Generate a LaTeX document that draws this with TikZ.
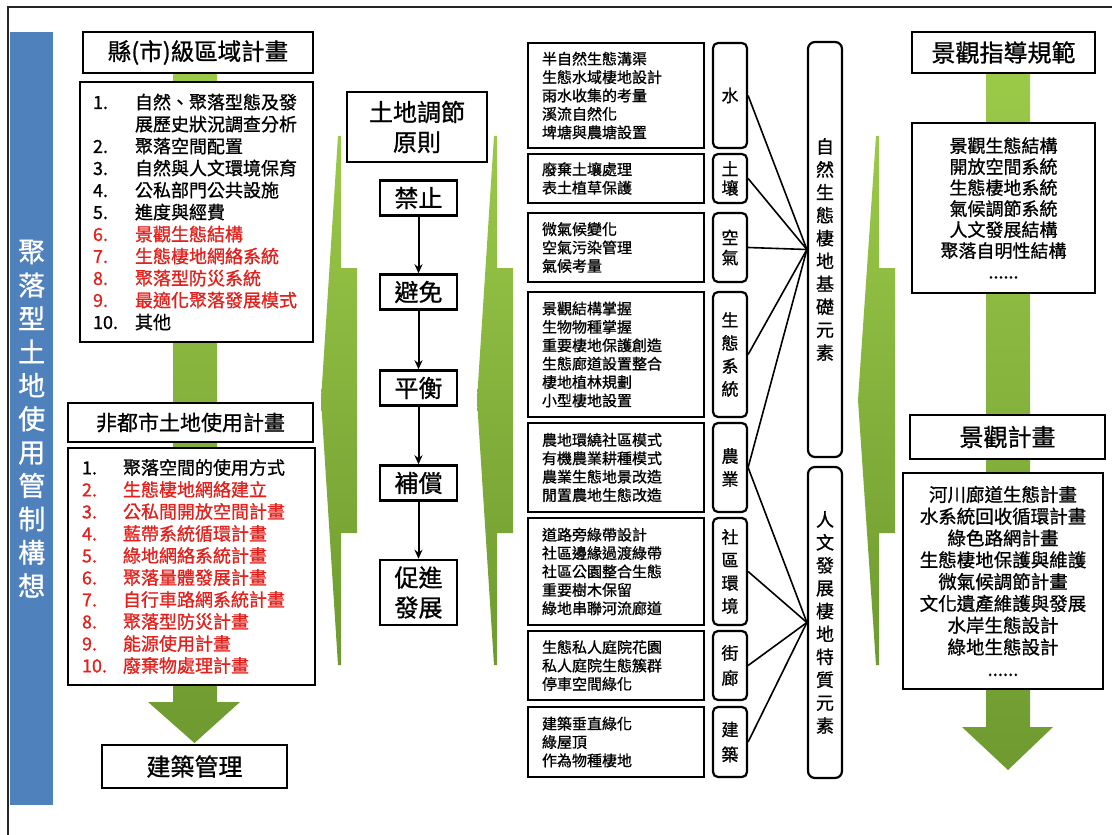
\documentclass[tikz,border=0pt]{standalone}
\usepackage{fontspec}
\setmainfont{Noto Sans CJK TC}[FakeBold=0.9]
\usetikzlibrary{arrows.meta}
\definecolor{cred}{HTML}{E3201B}
\definecolor{cblue}{HTML}{4F81BD}
\definecolor{gtop}{HTML}{9BC948}
\definecolor{gbot}{HTML}{6E9A30}
\newcommand\myr{\color{cred}}
\newcommand\nba[1]{\makebox[42pt][l]{#1}}
\newcommand\nbb[1]{\makebox[41pt][l]{#1}}
\begin{document}
\begin{tikzpicture}[x=1pt,y=-1pt,
  box/.style={draw=black, line width=2.5pt, fill=white, inner sep=0pt},
  hdr/.style={box, font=\fontsize{24}{30}\selectfont, align=center},
  stepbox/.style={box, minimum width=77, minimum height=35, font=\fontsize{24}{30}\selectfont, align=center},
  txtbox/.style={box, minimum width=176, text width=148, inner xsep=14, align=left, font=\fontsize{15}{18.4}\selectfont},
  lblbox/.style={box, line width=2.2pt, rounded corners=5pt, minimum width=34, align=center, font=\fontsize{17}{23}\selectfont},
  bigbox/.style={box, line width=2.2pt, rounded corners=7pt, minimum width=34, align=center, font=\fontsize{18}{22.9}\selectfont},
  conn/.style={line width=1.6pt},
  flow/.style={line width=2pt, -{Stealth[length=9pt,width=8pt]}},
  greenfill/.style={top color=gtop, bottom color=gbot, draw=none}
]
\useasboundingbox (0,0) rectangle (1112,835);
\fill[white] (0,0) rectangle (1112,835);
% outer frame
\draw[line width=1.5pt, black!85] (8,835) -- (8,7) -- (1112,7);

% side bar
\node[fill=cblue, minimum width=43, minimum height=773, inner sep=0pt, anchor=north west,
      text=white, align=center, font=\fontsize{27}{33.4}\selectfont] (side) at (10,32)
  {聚\\落\\型\\土\\地\\使\\用\\管\\制\\構\\想};

% green bars and arrows
\shade[greenfill] (173,73) -- (217,73) -- (217,702) -- (240,702) -- (194.5,743) -- (148,702) -- (173,702) -- cycle;
\shade[greenfill] (986,73) -- (1030,73) -- (1030,727) -- (1053,727) -- (1008,770) -- (962,727) -- (986,727) -- cycle;
% chevrons
\shade[greenfill] (338,136) -- (341,136) -- (341,268) -- (357,268) -- (357,533) -- (341,533) -- (341,665) -- (338,665) -- (321,400) -- cycle;
\shade[greenfill] (494,136) -- (497,136) -- (497,268) -- (513,268) -- (513,533) -- (497,533) -- (497,665) -- (494,665) -- (477,400) -- cycle;
\shade[greenfill] (876,136) -- (879,136) -- (879,268) -- (895,268) -- (895,533) -- (879,533) -- (879,665) -- (876,665) -- (858,400) -- cycle;

% left column
\node[hdr, minimum width=230, minimum height=41, font=\fontsize{23.5}{28}\selectfont] (h1) at (198,52.5) {縣(市)級區域計畫};
\node[box, minimum height=260, text width=207, inner xsep=13, align=left, font=\fontsize{18}{22}\selectfont] (l1) at (196.5,212) {%
\nba{1.}自然、聚落型態及發\\
\nba{}展歷史狀況調查分析\\
\nba{2.}聚落空間配置\\
\nba{3.}自然與人文環境保育\\
\nba{4.}公私部門公共設施\\
\nba{5.}進度與經費\\
{\myr\nba{6.}景觀生態結構}\\
{\myr\nba{7.}生態棲地網絡系統}\\
{\myr\nba{8.}聚落型防災系統}\\
{\myr\nba{9.}最適化聚落發展模式}\\
\nba{10.}其他};
\node[hdr, minimum width=245, minimum height=39, font=\fontsize{21}{26}\selectfont] (h2) at (190.5,422.5) {非都市土地使用計畫};
\node[box, minimum height=237, text width=219, inner xsep=14, align=left, font=\fontsize{18}{22}\selectfont] (l2) at (191.5,566.5) {%
\nbb{1.}聚落空間的使用方式\\
{\myr\nbb{2.}生態棲地網絡建立}\\
{\myr\nbb{3.}公私間開放空間計畫}\\
{\myr\nbb{4.}藍帶系統循環計畫}\\
{\myr\nbb{5.}綠地網絡系統計畫}\\
{\myr\nbb{6.}聚落量體發展計畫}\\
{\myr\nbb{7.}自行車路網系統計畫}\\
{\myr\nbb{8.}聚落型防災計畫}\\
{\myr\nbb{9.}能源使用計畫}\\
{\myr\nbb{10.}廢棄物處理計畫}};
\node[hdr, minimum width=185, minimum height=43] (jz) at (194.5,766.5) {建築管理};

% middle column
\node[hdr, minimum width=140, minimum height=70] (p0) at (417,127) {土地調節\\原則};
\node[stepbox] (p1) at (418.5,198) {禁止};
\node[stepbox] (p2) at (418.5,292) {避免};
\node[stepbox] (p3) at (418.5,388) {平衡};
\node[stepbox] (p4) at (418.5,483) {補償};
\node[stepbox, minimum height=65] (p5) at (418.5,592.5) {促進\\發展};
\draw[flow] (p1) -- (p2);
\draw[flow] (p2) -- (p3);
\draw[flow] (p3) -- (p4);
\draw[flow] (p4) -- (p5);

% element boxes
\node[txtbox, minimum height=105] (t1) at (616,95.5) {半自然生態溝渠\\生態水域棲地設計\\雨水收集的考量\\溪流自然化\\埤塘與農塘設置};
\node[txtbox, minimum height=49] (t2) at (616,178.5) {廢棄土壤處理\\表土植草保護};
\node[txtbox, minimum height=69] (t3) at (616,247.5) {微氣候變化\\空氣污染管理\\氣候考量};
\node[txtbox, minimum height=125] (t4) at (616,354.5) {景觀結構掌握\\生物物種掌握\\重要棲地保護創造\\生態廊道設置整合\\棲地植林規劃\\小型棲地設置};
\node[txtbox, minimum height=89] (t5) at (616,467.5) {農地環繞社區模式\\有機農業耕種模式\\農業生態地景改造\\閒置農地生態改造};
\node[txtbox, minimum height=107] (t6) at (616,571.5) {道路旁綠帶設計\\社區邊緣過渡綠帶\\社區公園整合生態\\重要樹木保留\\綠地串聯河流廊道};
\node[txtbox, minimum height=69] (t7) at (616,665.5) {生態私人庭院花園\\私人庭院生態簇群\\停車空間綠化};
\node[txtbox, minimum height=70] (t8) at (616,742) {建築垂直綠化\\綠屋頂\\作為物種棲地};

\node[lblbox, minimum height=105] (b1) at (730,95.5) {水};
\node[lblbox, minimum height=49, font=\fontsize{17}{19}\selectfont] (b2) at (730,178.5) {土\\壤};
\node[lblbox, minimum height=69, font=\fontsize{17}{20}\selectfont] (b3) at (730,247.5) {空\\氣};
\node[lblbox, minimum height=125] (b4) at (730,354.5) {生\\態\\系\\統};
\node[lblbox, minimum height=89] (b5) at (730,467.5) {農\\業};
\node[lblbox, minimum height=107] (b6) at (730,571.5) {社\\區\\環\\境};
\node[lblbox, minimum height=69, font=\fontsize{17}{25}\selectfont] (b7) at (730,665.5) {街\\廊};
\node[lblbox, minimum height=70, font=\fontsize{17}{25}\selectfont] (b8) at (730,742) {建\\築};

\node[bigbox, minimum height=415] (n1) at (825,249.5) {自\\然\\生\\態\\棲\\地\\基\\礎\\元\\素};
\node[bigbox, minimum height=311] (n2) at (825,622.5) {人\\文\\發\\展\\棲\\地\\特\\質\\元\\素};

\foreach \b in {b1,b2,b3,b4,b5} \draw[conn] (\b.east) -- (n1.west);
\foreach \b in {b5,b6,b7,b8} \draw[conn] (\b.east) -- (n2.west);

% right column
\node[hdr, minimum width=183, minimum height=41] (r0) at (1003.5,52.5) {景觀指導規範};
\node[box, minimum width=183, minimum height=170, align=center, font=\fontsize{18}{21}\selectfont] (r1) at (1003.5,208)
  {景觀生態結構\\開放空間系統\\生態棲地系統\\氣候調節系統\\人文發展結構\\聚落自明性結構\\......};
\node[hdr, minimum width=195, minimum height=44] (r2) at (1007.5,437) {景觀計畫};
\node[box, minimum width=200, minimum height=216, align=center, font=\fontsize{18.5}{21.8}\selectfont] (r3) at (1003,581)
  {河川廊道生態計畫\\水系統回收循環計畫\\綠色路網計畫\\生態棲地保護與維護\\微氣候調節計畫\\文化遺產維護與發展\\水岸生態設計\\綠地生態設計\\......};
\end{tikzpicture}
\end{document}
